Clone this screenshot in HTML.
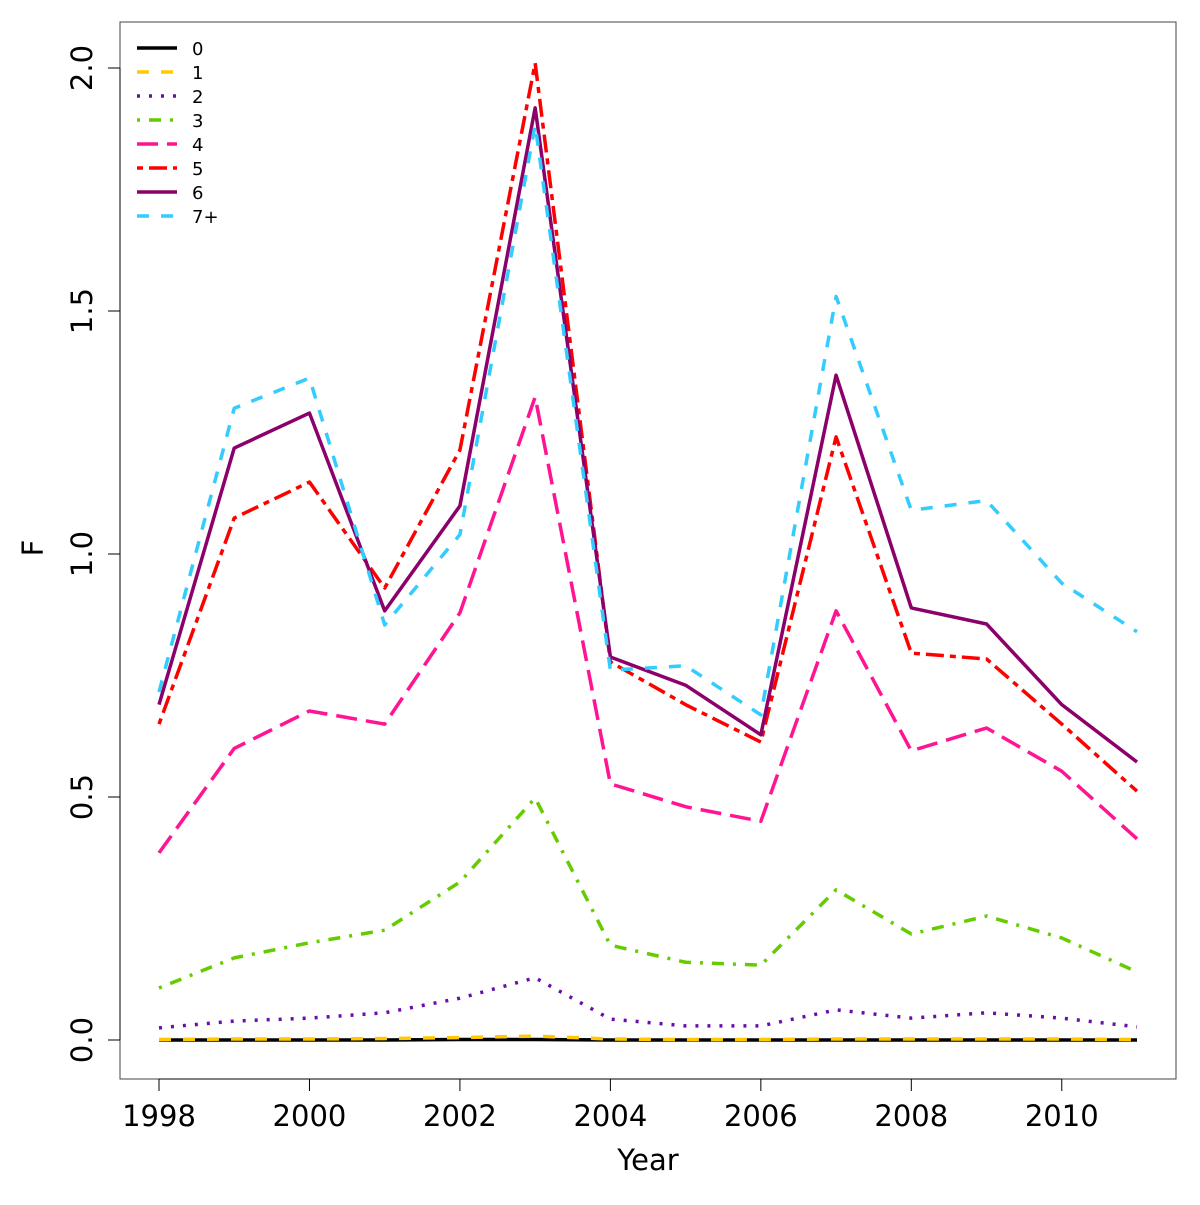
<!DOCTYPE html>
<html><head><meta charset="utf-8"><style>
body{margin:0;background:#fff}
svg text{font-family:"DejaVu Sans","Liberation Sans",sans-serif}
</style></head><body>
<svg id="chart" width="1200" height="1200" xmlns="http://www.w3.org/2000/svg">
<rect x="0" y="0" width="1200" height="1200" fill="#fff"/>
<rect x="120" y="22" width="1056" height="1057" fill="none" stroke="#444" stroke-width="1"/>
<g id="axes"></g>
<g id="series"></g>
<g id="legend"></g>
<text x="648" y="1170" font-size="29" text-anchor="middle">Year</text>
<text x="0" y="0" font-size="29" text-anchor="middle" transform="translate(43,548) rotate(-90)">F</text>
</svg>
<script>
const years=[1998,1999,2000,2001,2002,2003,2004,2005,2006,2007,2008,2009,2010,2011];
const seriesNames=["0","1","2","3","4","5","6","7+"];
const age0=[0,0,0,0,0.001,0.001,0,0,0,0,0,0,0,0];
const age1=[0.001,0.002,0.002,0.003,0.005,0.008,0.002,0.001,0.001,0.002,0.002,0.002,0.002,0.001];
const age2=[0.025,0.039,0.045,0.056,0.086,0.128,0.043,0.029,0.029,0.062,0.045,0.056,0.045,0.027];
const age3=[0.107,0.169,0.2,0.226,0.325,0.498,0.195,0.16,0.154,0.309,0.218,0.255,0.21,0.14];
const age4=[0.385,0.6,0.677,0.65,0.879,1.323,0.527,0.48,0.45,0.883,0.595,0.642,0.553,0.414];
const age5=[0.65,1.074,1.148,0.93,1.214,2.01,0.778,0.69,0.613,1.241,0.796,0.784,0.65,0.512];
const age6=[0.69,1.218,1.29,0.883,1.099,1.918,0.788,0.73,0.628,1.368,0.889,0.856,0.69,0.572];
const age7=[0.716,1.3,1.362,0.854,1.04,1.883,0.761,0.77,0.669,1.53,1.09,1.11,0.94,0.84];
const xTicks=[1998,2000,2002,2004,2006,2008,2010];
const yTicks=[0,0.5,1,1.5,2];
const yTickLabels=["0.0","0.5","1.0","1.5","2.0"];

const allSeries=[age0,age1,age2,age3,age4,age5,age6,age7];
const colors=["#000000","#FFC800","#6A0DAD","#66CC00","#FF1493","#FF0000","#8B006B","#33CCFF"];
const dashes=["","12,12","3,9","3,9,12,9","21,9","6,6,18,6","","12,12"];
const NS="http://www.w3.org/2000/svg";
const X=v=>159+(v-1998)*(1137-159)/13;
const Y=v=>1040-v*486;
function mk(tag,attrs,parent){const e=document.createElementNS(NS,tag);for(const k in attrs)e.setAttribute(k,attrs[k]);parent.appendChild(e);return e;}
const axes=document.getElementById('axes');
const xl=mk('line',{x1:X(1998),x2:X(2010),y1:1079,y2:1079,stroke:'#000','stroke-width':1},axes);


xTicks.forEach(t=>{
 const l=mk('line',{x1:X(t),x2:X(t),y1:1079,y2:1091,stroke:'#000'},axes);
 
 
 const tx=mk('text',{x:X(t),y:1126,'font-size':29,'text-anchor':'middle'},axes);tx.textContent=t;
 
 
});
const yl=mk('line',{x1:120,x2:120,y1:Y(0),y2:Y(2),stroke:'#000'},axes);


yTicks.forEach((t,i)=>{
 const l=mk('line',{x1:108,x2:120,y1:Y(t),y2:Y(t),stroke:'#000'},axes);
 
 
 const tx=mk('text',{x:0,y:0,'font-size':29,'text-anchor':'middle',transform:`translate(92,${Y(t)}) rotate(-90)`},axes);tx.textContent=yTickLabels[i];
 
 
});
const sg=document.getElementById('series');
allSeries.forEach((s,i)=>{
 const p=mk('polyline',{points:s.map((v,j)=>X(years[j])+','+Y(v)).join(' '),fill:'none',stroke:colors[i],'stroke-width':3.5,'stroke-dasharray':dashes[i],'stroke-linejoin':'round'},sg);
 
 
});
const lg=document.getElementById('legend');
seriesNames.forEach((n,i)=>{
 const y=48+i*24;
 const l=mk('line',{x1:137,x2:177,y1:y,y2:y,stroke:colors[i],'stroke-width':3.5,'stroke-dasharray':dashes[i]},lg);
 
 
 const t=mk('text',{x:192,y:y+7,'font-size':18},lg);t.textContent=n;
 
 
});
</script>
</body></html>
